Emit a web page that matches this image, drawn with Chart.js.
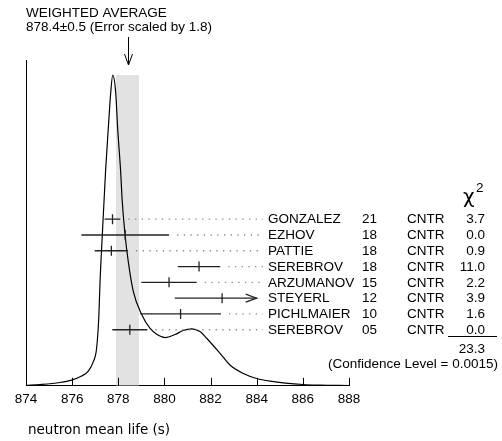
<!DOCTYPE html>
<html><head><meta charset="utf-8">
<script src="https://cdn.jsdelivr.net/npm/chart.js@4"></script>
<style>html,body{margin:0;padding:0;background:#fff}#wrap{width:502px;height:441px}</style>
</head><body><div id="wrap"><canvas id="c" width="502" height="441"></canvas></div>
<script>
// ---- data ----
const names = ["GONZALEZ","EZHOV","PATTIE","SEREBROV","ARZUMANOV","STEYERL","PICHLMAIER","SEREBROV"];
const years = ["21","18","18","18","15","12","10","05"];
const techs = ["CNTR","CNTR","CNTR","CNTR","CNTR","CNTR","CNTR","CNTR"];
const chi2 = ["3.7","0.0","0.9","11.0","2.2","3.9","1.6","0.0"];
const values = [877.75, 878.3, 877.7, 881.5, 880.2, 882.5, 880.7, 878.5];
const errors = [0.34, 1.9, 0.72, 0.92, 1.2, 2.05, 1.75, 0.76];
const chi2Total = "23.3";
const confLevel = "(Confidence Level = 0.0015)";
const avgValue = 878.4, avgError = 0.5;
const avgTitle = "WEIGHTED AVERAGE";
const avgText = "878.4\u00b10.5 (Error scaled by 1.8)";
const xTitle = "neutron mean life (s)";
const xMin = 874, xMax = 888, xStep = 2;
const barLimit = 884; // bars beyond this are clipped and drawn with an arrow
// ideogram curve
const curveX = [874.0,874.61,875.47,875.98,876.41,876.70,876.92,877.06,877.16,877.21,877.31,877.45,877.57,877.67,877.76,877.89,877.97,878.10,878.17,878.29,878.43,878.65,879.02,879.37,879.68,880.03,880.46,880.81,881.18,881.54,881.83,882.41,882.84,883.42,884.00,884.58,886.02,886.74,888.0];
const curveY = [0.5,1.3,3.3,5.7,9.7,14.7,24,37.3,70.7,104,151,214,257,291,309,291,257,214,184,151,124,94,70.7,57.3,51,48,51,55,56.7,54,47.3,32.3,20.7,12.3,7.3,4.7,1.3,0.7,0.2];
const curvePeak = 309;

const HELV = '"Liberation Sans", Arial, Helvetica, sans-serif';
const FS = 13.5;

const datasets = [];
// weighted-average band
datasets.push({
  type:'line', order:20, data:[{x:avgValue-avgError,y:0},{x:avgValue-avgError,y:curvePeak},{x:avgValue+avgError,y:curvePeak},{x:avgValue+avgError,y:0}],
  borderWidth:0, borderColor:'rgba(0,0,0,0)', pointRadius:0, backgroundColor:'#e2e2e2', fill:'origin', tension:0, yAxisID:'y'
});
// ideogram curve
datasets.push({
  type:'line', order:10, data:curveX.map((v,i)=>({x:v,y:curveY[i]})), borderColor:'#000', borderWidth:1.2,
  pointRadius:0, fill:false, cubicInterpolationMode:'monotone', yAxisID:'y'
});
// error bars
values.forEach((v,i)=>{
  datasets.push({
    type:'line', order:1, data:[{x:Math.max(xMin,v-errors[i]),y:i},{x:Math.min(barLimit,v+errors[i]),y:i}],
    borderColor:'#222', borderWidth:1.3, pointRadius:0, fill:false, yAxisID:'yr'
  });
});
// central values
datasets.push({
  type:'scatter', order:0, data:values.map((v,i)=>({x:v,y:i})), pointStyle:'line', rotation:90, pointRadius:5,
  borderColor:'#222', borderWidth:1.3, yAxisID:'yr'
});

const overlay = {
  id:'overlay',
  afterDatasetsDraw(chart){
    const {ctx, chartArea:ca, scales:{x, yr}} = chart;
    ctx.save();
    // tick marks pointing up
    ctx.strokeStyle='#000'; ctx.lineWidth=1;
    x.ticks.forEach(t=>{
      const px=Math.round(x.getPixelForValue(t.value))+0.5;
      ctx.beginPath(); ctx.moveTo(px, ca.bottom); ctx.lineTo(px, ca.bottom-8); ctx.stroke();
    });
    // dotted leaders + arrows
    const leaderEnd = 263;
    values.forEach((v,i)=>{
      const py = yr.getPixelForValue(i);
      const hi = v+errors[i];
      if (hi > barLimit) {
        const ex = x.getPixelForValue(barLimit);
        ctx.strokeStyle='#222'; ctx.lineWidth=1.2; ctx.setLineDash([]);
        ctx.beginPath(); ctx.moveTo(ex-11, py-4); ctx.lineTo(ex, py); ctx.lineTo(ex-11, py+4); ctx.stroke();
      } else {
        const sx = x.getPixelForValue(hi) + 8;
        ctx.strokeStyle='#888'; ctx.lineWidth=1.3; ctx.setLineDash([1.3,5.4]);
        ctx.beginPath(); ctx.moveTo(sx, py); ctx.lineTo(leaderEnd, py); ctx.stroke();
      }
    });
    ctx.setLineDash([]);
    // row texts
    ctx.fillStyle='#000'; ctx.font = FS+'px '+HELV; ctx.textBaseline='middle';
    names.forEach((n,i)=>{
      const py = yr.getPixelForValue(i)+0.5;
      ctx.textAlign='left';
      ctx.fillText(n, 268, py);
      ctx.fillText(years[i], 362, py);
      ctx.fillText(techs[i], 407, py);
      ctx.textAlign='right';
      ctx.fillText(chi2[i], 485, py);
    });
    // chi2 header
    const r0 = yr.getPixelForValue(0);
    ctx.textAlign='left';
    ctx.font = '20px "DejaVu Sans", sans-serif'; ctx.fillText('\u03c7', 463, r0-21);
    ctx.font = FS+'px '+HELV; ctx.fillText('2', 476, r0-31);
    // sum line
    const r7 = yr.getPixelForValue(7);
    ctx.strokeStyle='#000'; ctx.lineWidth=1;
    ctx.beginPath(); ctx.moveTo(448, Math.round(r7+6)+0.5); ctx.lineTo(497, Math.round(r7+6)+0.5); ctx.stroke();
    ctx.textAlign='right';
    ctx.fillText(chi2Total, 485, r7+20);
    ctx.fillText(confLevel, 498, r7+35);
    // weighted average arrow
    const ax = Math.round(x.getPixelForValue(avgValue))+0.5;
    ctx.beginPath(); ctx.moveTo(ax, 37); ctx.lineTo(ax, 65); ctx.stroke();
    ctx.beginPath(); ctx.moveTo(ax-4, 54); ctx.lineTo(ax, 65); ctx.lineTo(ax+4, 54); ctx.stroke();
    // top texts
    ctx.textAlign='left';
    ctx.fillText(avgTitle, 26, 13);
    ctx.fillText(avgText, 26, 27);
    // x title
    ctx.font = '13.5px "DejaVu Sans", sans-serif';
    ctx.fillText(xTitle, 28, 430);
    ctx.restore();
  }
};

new Chart(document.getElementById('c'), {
  data:{datasets},
  options:{
    responsive:false, animation:false, devicePixelRatio:1,
    layout:{padding:{left:26, right:153, top:60, bottom:29}},
    plugins:{legend:{display:false}, tooltip:{enabled:false}},
    scales:{
      x:{type:'linear', min:xMin, max:xMax,
         ticks:{stepSize:xStep, color:'#000', font:{family:HELV, size:FS}, padding:5, maxRotation:0},
         grid:{display:false, drawTicks:false}, border:{display:true, color:'#000', width:1}},
      y:{type:'linear', min:0, max:324, position:'left',
         ticks:{display:false}, grid:{display:false, drawTicks:false}, border:{display:true, color:'#000', width:1}},
      yr:{type:'linear', min:-10.08, max:10.55, reverse:true, display:false}
    }
  },
  plugins:[overlay]
});
</script>
</body></html>
